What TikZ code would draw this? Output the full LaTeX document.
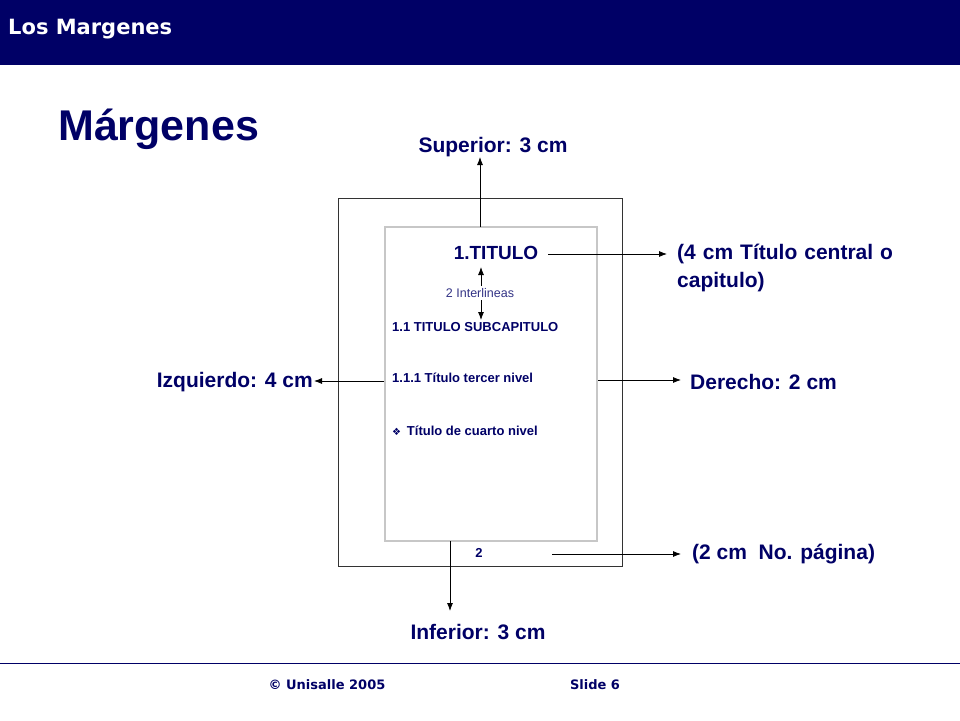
\documentclass[tikz,border=0pt]{standalone}
\usepackage{fontspec}
\setmainfont{Liberation Sans}
\newfontfamily\dv{DejaVu Sans}
\usetikzlibrary{arrows.meta}
\definecolor{navy}{HTML}{000066}
\begin{document}
\begin{tikzpicture}[x=1pt,y=-1pt,
  lbl/.style={font=\bfseries\fontsize{21}{25}\selectfont, text=navy, inner sep=0},
  small/.style={font=\bfseries\fontsize{13}{15}\selectfont, text=navy, inner sep=0, anchor=west},
  arr/.style={-{Latex[length=8pt,width=6pt]}, line width=0.8pt}]
\useasboundingbox (0,0) rectangle (960,720);
\fill[navy] (0,0) rectangle (960,65);
\node[anchor=west, text=white, inner sep=0, font=\dv\bfseries\fontsize{21}{24}\selectfont] (hdr) at (8,29) {Los Margenes};
\node[anchor=west, text=navy, inner sep=0, font=\bfseries\fontsize{43}{50}\selectfont] (title) at (58,129) {Márgenes};
\draw[line width=0.8pt, black!80] (338,198) rectangle (622,566);
\draw[line width=1.2pt, black!22] (385,227) rectangle (597,541);
\coordinate (top) at (480,227);
\coordinate (topE) at (480,157);
\draw[arr] (top) -- (topE);
\node[lbl] (sup) at (493,147) {Superior: 3 cm};
\node[font=\bfseries\fontsize{19}{22}\selectfont, text=navy, inner sep=0] (tit) at (496,253) {1.TITULO};
\coordinate (titS) at (548,254);
\coordinate (titE) at (667,254);
\draw[arr] (titS) -- (titE);
\node[lbl, anchor=west, align=left, text width=260] (cap) at (677,268) {(4 cm Título central o\\[3pt]capitulo)};
\node[font=\fontsize{12.5}{15}\selectfont, text=navy!80, inner sep=0] (inter) at (480,293) {2 Interlineas};
\coordinate (i1) at (481,286); \coordinate (i1e) at (481,267);
\coordinate (i2) at (481,300); \coordinate (i2e) at (481,320);
\draw[arr] (i1) -- (i1e);
\draw[arr] (i2) -- (i2e);
\node[small] (sub) at (392,327) {1.1 TITULO SUBCAPITULO};
\node[small] (ter) at (392,378) {1.1.1 Título tercer nivel};
\node[small] (cua) at (392,431) {{\dv\fontsize{10}{12}\selectfont ❖}\, Título de cuarto nivel};
\coordinate (l1) at (384,381); \coordinate (l1e) at (314,381);
\draw[arr] (l1) -- (l1e);
\node[lbl, anchor=east] (izq) at (313,382) {Izquierdo: 4 cm};
\coordinate (r1) at (598,380); \coordinate (r1e) at (681,380);
\draw[arr] (r1) -- (r1e);
\node[lbl, anchor=west] (der) at (690,382) {Derecho: 2 cm};
\node[font=\bfseries\fontsize{13}{15}\selectfont, text=navy, inner sep=0] (pn) at (479,553) {2};
\coordinate (p1) at (552,554); \coordinate (p1e) at (681,554);
\draw[arr] (p1) -- (p1e);
\node[lbl, anchor=west] (pag) at (692,554) {(2 cm\ \ No. página)};
\coordinate (b1) at (450,541); \coordinate (b1e) at (450,611);
\draw[arr] (b1) -- (b1e);
\node[lbl] (inf) at (478,632) {Inferior: 3 cm};
\draw[navy, line width=0.8pt] (0,663) -- (960,663);
\node[font=\dv\bfseries\fontsize{13}{15}\selectfont, text=navy, inner sep=0] (c) at (327,685) {© Unisalle 2005};
\node[font=\dv\bfseries\fontsize{13}{15}\selectfont, text=navy, inner sep=0] (s) at (595,685) {Slide 6};
\end{tikzpicture}
\end{document}
